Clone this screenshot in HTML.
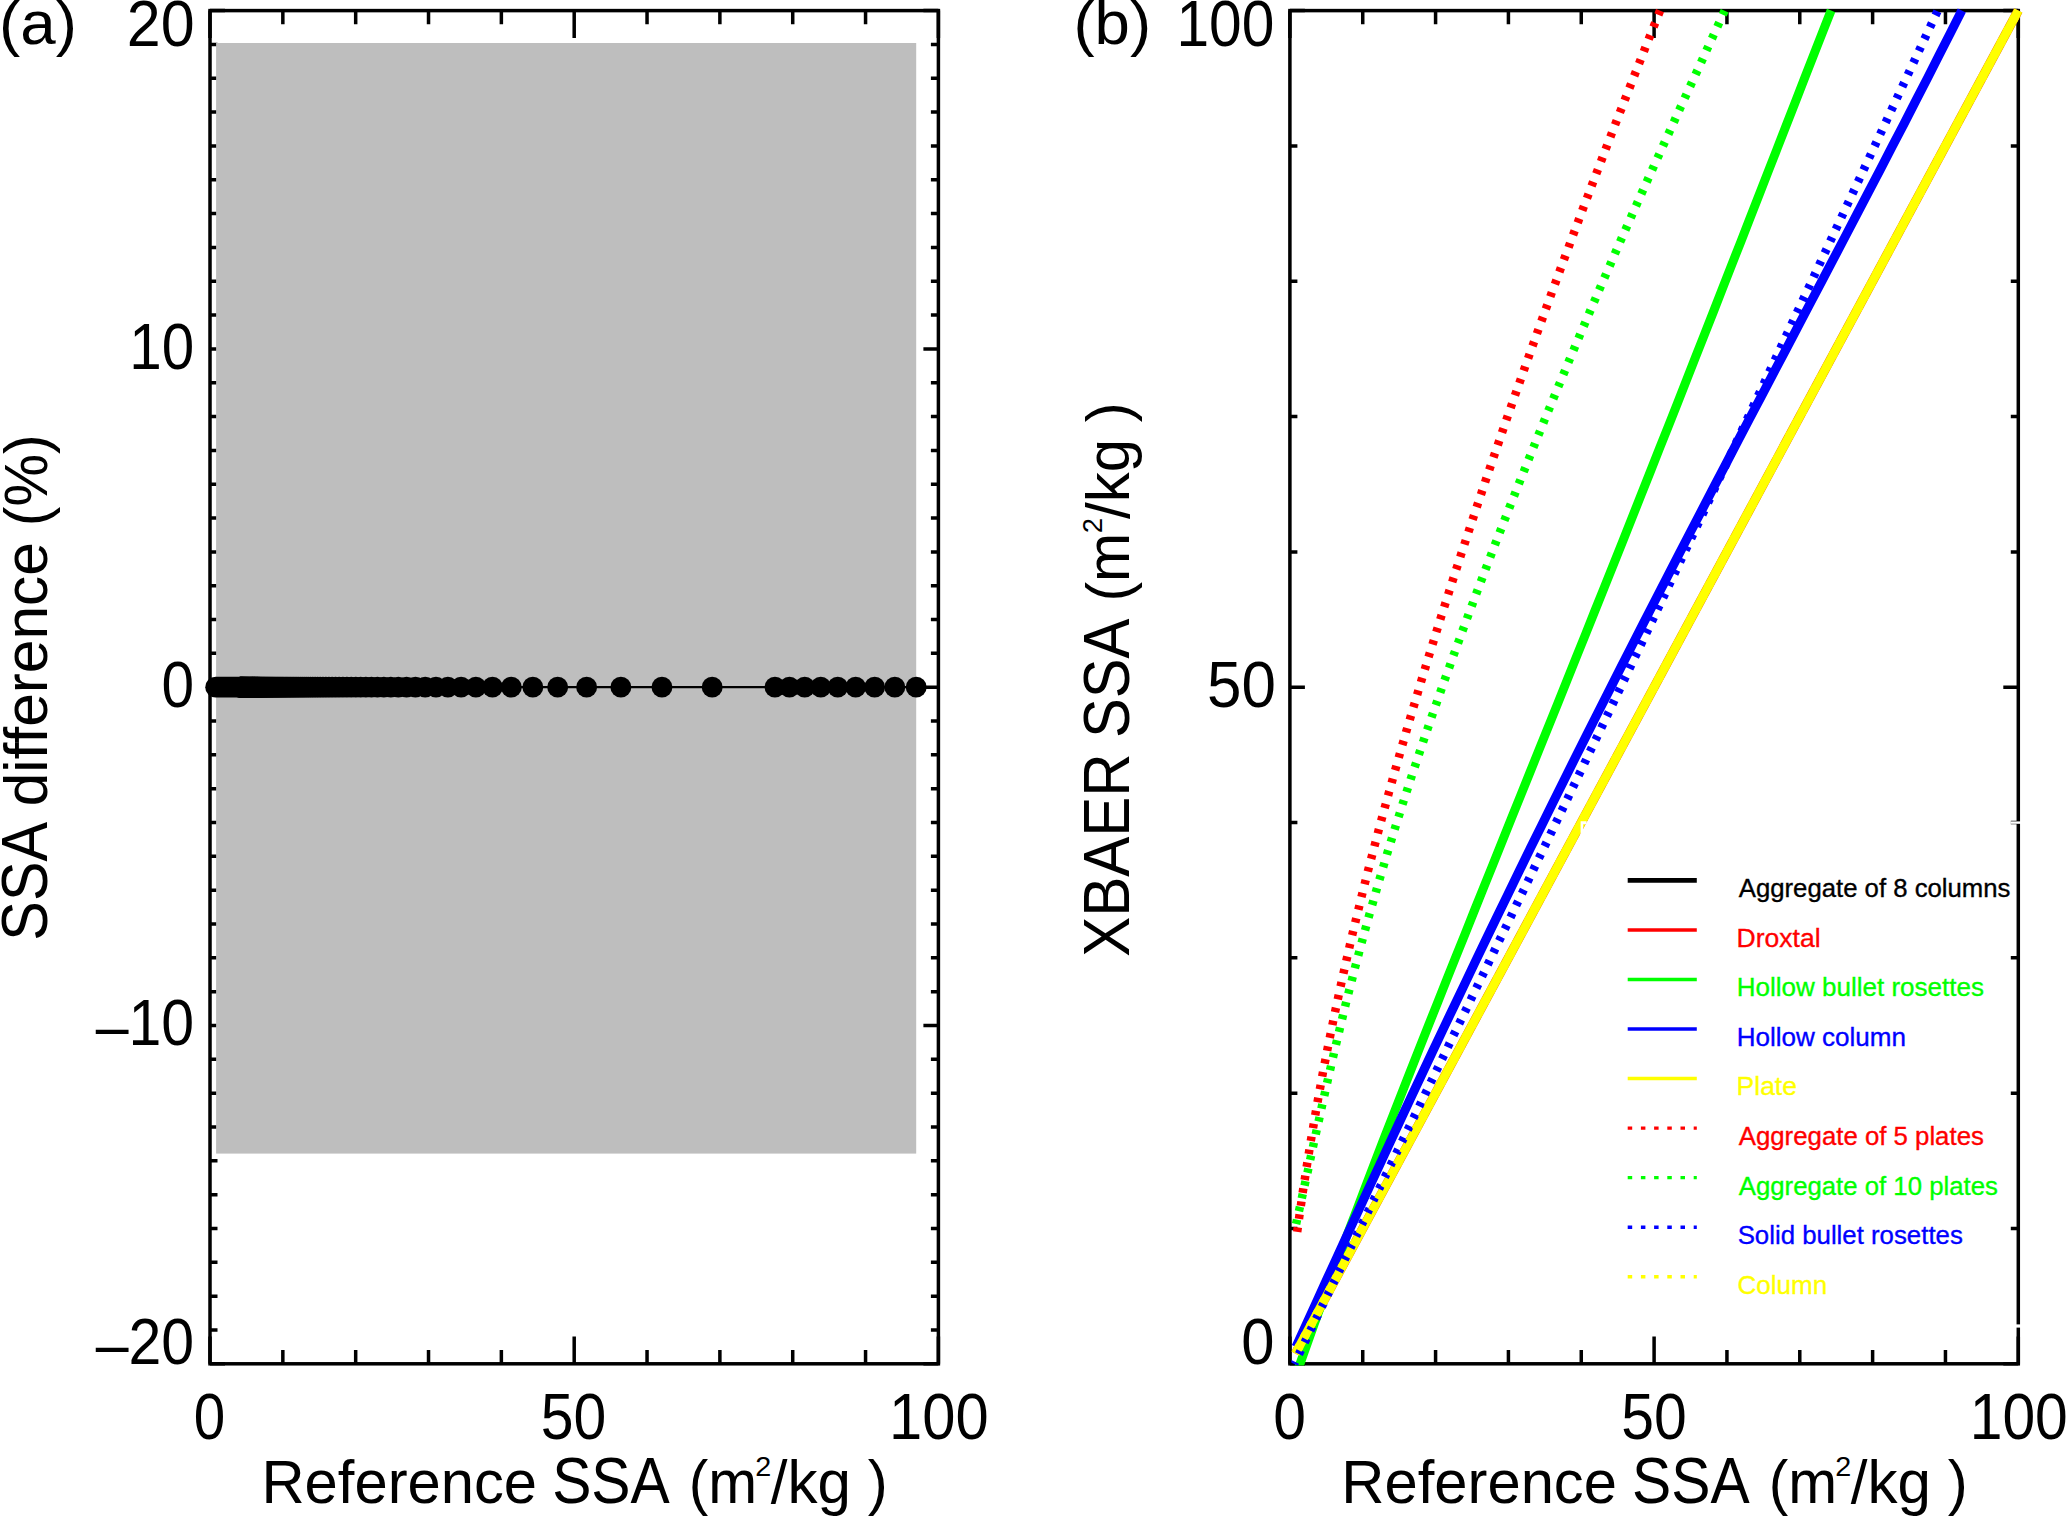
<!DOCTYPE html>
<html lang="en"><head><meta charset="utf-8"><title>SSA comparison</title>
<style>html,body{margin:0;padding:0;background:#fff}body{width:2067px;height:1518px;overflow:hidden}svg{display:block}</style>
</head><body>
<svg width="2067" height="1518" viewBox="0 0 2067 1518" font-family="'Liberation Sans', Arial, Helvetica, sans-serif">
<rect width="2067" height="1518" fill="#fff"/>
<rect x="210.0" y="10.6" width="728.40" height="1353.20" fill="none" stroke="#000" stroke-width="3.5"/>
<path d="M210.00 10.6v27.4M210.00 1363.8v-27.4M282.84 10.6v13.7M282.84 1363.8v-13.7M355.68 10.6v13.7M355.68 1363.8v-13.7M428.52 10.6v13.7M428.52 1363.8v-13.7M501.36 10.6v13.7M501.36 1363.8v-13.7M574.20 10.6v27.4M574.20 1363.8v-27.4M647.04 10.6v13.7M647.04 1363.8v-13.7M719.88 10.6v13.7M719.88 1363.8v-13.7M792.72 10.6v13.7M792.72 1363.8v-13.7M865.56 10.6v13.7M865.56 1363.8v-13.7M938.40 10.6v27.4M938.40 1363.8v-27.4" stroke="#000" stroke-width="3.5" fill="none"/>
<path d="M210.0 1363.80h15.0M938.4 1363.80h-15.0M210.0 1329.97h7.5M938.4 1329.97h-7.5M210.0 1296.14h7.5M938.4 1296.14h-7.5M210.0 1262.31h7.5M938.4 1262.31h-7.5M210.0 1228.48h7.5M938.4 1228.48h-7.5M210.0 1194.65h7.5M938.4 1194.65h-7.5M210.0 1160.82h7.5M938.4 1160.82h-7.5M210.0 1126.99h7.5M938.4 1126.99h-7.5M210.0 1093.16h7.5M938.4 1093.16h-7.5M210.0 1059.33h7.5M938.4 1059.33h-7.5M210.0 1025.50h15.0M938.4 1025.50h-15.0M210.0 991.67h7.5M938.4 991.67h-7.5M210.0 957.84h7.5M938.4 957.84h-7.5M210.0 924.01h7.5M938.4 924.01h-7.5M210.0 890.18h7.5M938.4 890.18h-7.5M210.0 856.35h7.5M938.4 856.35h-7.5M210.0 822.52h7.5M938.4 822.52h-7.5M210.0 788.69h7.5M938.4 788.69h-7.5M210.0 754.86h7.5M938.4 754.86h-7.5M210.0 721.03h7.5M938.4 721.03h-7.5M210.0 687.20h15.0M938.4 687.20h-15.0M210.0 653.37h7.5M938.4 653.37h-7.5M210.0 619.54h7.5M938.4 619.54h-7.5M210.0 585.71h7.5M938.4 585.71h-7.5M210.0 551.88h7.5M938.4 551.88h-7.5M210.0 518.05h7.5M938.4 518.05h-7.5M210.0 484.22h7.5M938.4 484.22h-7.5M210.0 450.39h7.5M938.4 450.39h-7.5M210.0 416.56h7.5M938.4 416.56h-7.5M210.0 382.73h7.5M938.4 382.73h-7.5M210.0 348.90h15.0M938.4 348.90h-15.0M210.0 315.07h7.5M938.4 315.07h-7.5M210.0 281.24h7.5M938.4 281.24h-7.5M210.0 247.41h7.5M938.4 247.41h-7.5M210.0 213.58h7.5M938.4 213.58h-7.5M210.0 179.75h7.5M938.4 179.75h-7.5M210.0 145.92h7.5M938.4 145.92h-7.5M210.0 112.09h7.5M938.4 112.09h-7.5M210.0 78.26h7.5M938.4 78.26h-7.5M210.0 44.43h7.5M938.4 44.43h-7.5M210.0 10.60h15.0M938.4 10.60h-15.0" stroke="#000" stroke-width="3.5" fill="none"/>
<rect x="216.1" y="43" width="700.1" height="1110.6" fill="#bebebe"/>
<line x1="210.0" y1="687.15" x2="938.4" y2="687.15" stroke="#000" stroke-width="2.4"/>
<g fill="#000"><circle cx="916.21" cy="687.15" r="10.45"/><circle cx="894.81" cy="687.15" r="10.45"/><circle cx="874.66" cy="687.15" r="10.45"/><circle cx="855.67" cy="687.15" r="10.45"/><circle cx="837.74" cy="687.15" r="10.45"/><circle cx="820.77" cy="687.15" r="10.45"/><circle cx="804.70" cy="687.15" r="10.45"/><circle cx="789.45" cy="687.15" r="10.45"/><circle cx="774.97" cy="687.15" r="10.45"/><circle cx="712.19" cy="687.15" r="10.45"/><circle cx="661.97" cy="687.15" r="10.45"/><circle cx="620.88" cy="687.15" r="10.45"/><circle cx="586.64" cy="687.15" r="10.45"/><circle cx="557.67" cy="687.15" r="10.45"/><circle cx="532.84" cy="687.15" r="10.45"/><circle cx="511.31" cy="687.15" r="10.45"/><circle cx="492.48" cy="687.15" r="10.45"/><circle cx="475.87" cy="687.15" r="10.45"/><circle cx="461.10" cy="687.15" r="10.45"/><circle cx="447.88" cy="687.15" r="10.45"/><circle cx="435.99" cy="687.15" r="10.45"/><circle cx="425.22" cy="687.15" r="10.45"/><circle cx="415.44" cy="687.15" r="10.45"/><circle cx="406.51" cy="687.15" r="10.45"/><circle cx="398.32" cy="687.15" r="10.45"/><circle cx="390.79" cy="687.15" r="10.45"/><circle cx="383.84" cy="687.15" r="10.45"/><circle cx="377.40" cy="687.15" r="10.45"/><circle cx="371.42" cy="687.15" r="10.45"/><circle cx="365.85" cy="687.15" r="10.45"/><circle cx="360.66" cy="687.15" r="10.45"/><circle cx="355.80" cy="687.15" r="10.45"/><circle cx="351.24" cy="687.15" r="10.45"/><circle cx="346.96" cy="687.15" r="10.45"/><circle cx="342.93" cy="687.15" r="10.45"/><circle cx="339.13" cy="687.15" r="10.45"/><circle cx="335.55" cy="687.15" r="10.45"/><circle cx="332.15" cy="687.15" r="10.45"/><circle cx="328.94" cy="687.15" r="10.45"/><circle cx="325.89" cy="687.15" r="10.45"/><circle cx="322.99" cy="687.15" r="10.45"/><circle cx="320.24" cy="687.15" r="10.45"/><circle cx="317.61" cy="687.15" r="10.45"/><circle cx="315.11" cy="687.15" r="10.45"/><circle cx="312.72" cy="687.15" r="10.45"/><circle cx="310.44" cy="687.15" r="10.45"/><circle cx="308.25" cy="687.15" r="10.45"/><circle cx="306.16" cy="687.15" r="10.45"/><circle cx="304.16" cy="687.15" r="10.45"/><circle cx="302.24" cy="687.15" r="10.45"/><circle cx="300.39" cy="687.15" r="10.45"/><circle cx="298.62" cy="687.15" r="10.45"/><circle cx="296.92" cy="687.15" r="10.45"/><circle cx="295.28" cy="687.15" r="10.45"/><circle cx="293.70" cy="687.15" r="10.45"/><circle cx="292.18" cy="687.15" r="10.45"/><circle cx="290.71" cy="687.15" r="10.45"/><circle cx="289.29" cy="687.15" r="10.45"/><circle cx="287.93" cy="687.15" r="10.45"/><circle cx="286.61" cy="687.15" r="10.45"/><circle cx="285.33" cy="687.15" r="10.45"/><circle cx="284.09" cy="687.15" r="10.45"/><circle cx="282.90" cy="687.15" r="10.45"/><circle cx="281.74" cy="687.15" r="10.45"/><circle cx="280.62" cy="687.15" r="10.45"/><circle cx="279.53" cy="687.15" r="10.45"/><circle cx="278.48" cy="687.15" r="10.45"/><circle cx="277.46" cy="687.15" r="10.45"/><circle cx="276.47" cy="687.15" r="10.45"/><circle cx="275.50" cy="687.15" r="10.45"/><circle cx="274.57" cy="687.15" r="10.45"/><circle cx="273.66" cy="687.15" r="10.45"/><circle cx="272.77" cy="687.15" r="10.45"/><circle cx="271.91" cy="687.15" r="10.45"/><circle cx="271.08" cy="687.15" r="10.45"/><circle cx="270.26" cy="687.15" r="10.45"/><circle cx="269.47" cy="687.15" r="10.45"/><circle cx="268.70" cy="687.15" r="10.45"/><circle cx="267.95" cy="687.15" r="10.45"/><circle cx="267.21" cy="687.15" r="10.45"/><circle cx="266.50" cy="687.15" r="10.45"/><circle cx="265.80" cy="687.15" r="10.45"/><circle cx="265.12" cy="687.15" r="10.45"/><circle cx="264.45" cy="687.15" r="10.45"/><circle cx="263.81" cy="687.15" r="10.45"/><circle cx="263.17" cy="687.15" r="10.45"/><circle cx="262.55" cy="687.15" r="10.45"/><circle cx="261.95" cy="687.15" r="10.45"/><circle cx="261.36" cy="687.15" r="10.45"/><circle cx="260.78" cy="687.15" r="10.45"/><circle cx="260.22" cy="687.15" r="10.45"/><circle cx="259.67" cy="687.15" r="10.45"/><circle cx="259.13" cy="687.15" r="10.45"/><circle cx="258.60" cy="687.15" r="10.45"/><circle cx="258.08" cy="687.15" r="10.45"/><circle cx="257.58" cy="687.15" r="10.45"/><circle cx="257.08" cy="687.15" r="10.45"/><circle cx="256.60" cy="687.15" r="10.45"/><circle cx="256.12" cy="687.15" r="10.45"/><circle cx="255.65" cy="687.15" r="10.45"/><circle cx="255.20" cy="687.15" r="10.45"/><circle cx="254.75" cy="687.15" r="10.45"/><circle cx="254.31" cy="687.15" r="10.45"/><circle cx="253.88" cy="687.15" r="10.45"/><circle cx="253.46" cy="687.15" r="10.45"/><circle cx="253.04" cy="687.15" r="10.45"/><circle cx="252.64" cy="687.15" r="10.45"/><circle cx="252.24" cy="687.15" r="10.45"/><circle cx="251.85" cy="687.15" r="10.45"/><circle cx="251.47" cy="687.15" r="10.45"/><circle cx="251.09" cy="687.15" r="10.45"/><circle cx="250.72" cy="687.15" r="10.45"/><circle cx="250.35" cy="687.15" r="10.45"/><circle cx="250.00" cy="687.15" r="10.45"/><circle cx="249.65" cy="687.15" r="10.45"/><circle cx="249.30" cy="687.15" r="10.45"/><circle cx="248.96" cy="687.15" r="10.45"/><circle cx="248.63" cy="687.15" r="10.45"/><circle cx="248.30" cy="687.15" r="10.45"/><circle cx="247.98" cy="687.15" r="10.45"/><circle cx="247.66" cy="687.15" r="10.45"/><circle cx="247.35" cy="687.15" r="10.45"/><circle cx="247.05" cy="687.15" r="10.45"/><circle cx="246.75" cy="687.15" r="10.45"/><circle cx="246.45" cy="687.15" r="10.45"/><circle cx="246.16" cy="687.15" r="10.45"/><circle cx="245.87" cy="687.15" r="10.45"/><circle cx="245.59" cy="687.15" r="10.45"/><circle cx="245.31" cy="687.15" r="10.45"/><circle cx="245.04" cy="687.15" r="10.45"/><circle cx="244.77" cy="687.15" r="10.45"/><circle cx="244.50" cy="687.15" r="10.45"/><circle cx="244.24" cy="687.15" r="10.45"/><circle cx="243.98" cy="687.15" r="10.45"/><circle cx="243.73" cy="687.15" r="10.45"/><circle cx="243.48" cy="687.15" r="10.45"/><circle cx="243.23" cy="687.15" r="10.45"/><circle cx="242.99" cy="687.15" r="10.45"/><circle cx="242.75" cy="687.15" r="10.45"/><circle cx="242.52" cy="687.15" r="10.45"/><circle cx="242.28" cy="687.15" r="10.45"/><circle cx="242.05" cy="687.15" r="10.45"/><circle cx="241.83" cy="687.15" r="10.45"/><circle cx="241.61" cy="687.15" r="10.45"/><circle cx="241.39" cy="687.15" r="10.45"/><circle cx="241.17" cy="687.15" r="10.45"/><circle cx="240.96" cy="687.15" r="10.45"/><circle cx="240.75" cy="687.15" r="10.45"/><circle cx="240.54" cy="687.15" r="10.45"/><circle cx="240.33" cy="687.15" r="10.45"/><circle cx="240.13" cy="687.15" r="10.45"/></g>
<line x1="215.7" y1="687.15" x2="240.13" y2="687.15" stroke="#000" stroke-width="20.9" stroke-linecap="round"/>
<rect x="1289.9" y="10.6" width="728.40" height="1353.20" fill="none" stroke="#000" stroke-width="3.5"/>
<path d="M1289.90 10.6v27.4M1289.90 1363.8v-27.4M1362.74 10.6v13.7M1362.74 1363.8v-13.7M1435.58 10.6v13.7M1435.58 1363.8v-13.7M1508.42 10.6v13.7M1508.42 1363.8v-13.7M1581.26 10.6v13.7M1581.26 1363.8v-13.7M1654.10 10.6v27.4M1654.10 1363.8v-27.4M1726.94 10.6v13.7M1726.94 1363.8v-13.7M1799.78 10.6v13.7M1799.78 1363.8v-13.7M1872.62 10.6v13.7M1872.62 1363.8v-13.7M1945.46 10.6v13.7M1945.46 1363.8v-13.7M2018.30 10.6v27.4M2018.30 1363.8v-27.4" stroke="#000" stroke-width="3.5" fill="none"/>
<path d="M1289.9 1363.80h15.0M2018.3 1363.80h-15.0M1289.9 1228.48h7.5M2018.3 1228.48h-7.5M1289.9 1093.16h7.5M2018.3 1093.16h-7.5M1289.9 957.84h7.5M2018.3 957.84h-7.5M1289.9 822.52h7.5M2018.3 822.52h-7.5M1289.9 687.20h15.0M2018.3 687.20h-15.0M1289.9 551.88h7.5M2018.3 551.88h-7.5M1289.9 416.56h7.5M2018.3 416.56h-7.5M1289.9 281.24h7.5M2018.3 281.24h-7.5M1289.9 145.92h7.5M2018.3 145.92h-7.5M1289.9 10.60h15.0M2018.3 10.60h-15.0" stroke="#000" stroke-width="3.5" fill="none"/>
<clipPath id="cb"><rect x="1291.35" y="0" width="748.40" height="1365.55"/></clipPath>
<g clip-path="url(#cb)"><polyline points="1295.4,1353.6 2018.3,10.5" fill="none" stroke="#e87800" stroke-width="9.35"/><polyline points="1297.1,1372.0 1305.3,1348.9 1313.6,1325.8 1322.0,1302.8 1330.5,1279.7 1339.1,1256.6 1347.7,1233.5 1356.5,1210.5 1365.3,1187.4 1374.1,1164.3 1383.0,1141.2 1392.0,1118.2 1401.0,1095.1 1410.1,1072.0 1419.2,1048.9 1428.3,1025.9 1437.5,1002.8 1446.7,979.7 1455.9,956.6 1465.2,933.6 1474.4,910.5 1483.7,887.4 1493.0,864.3 1502.3,841.2 1511.5,818.2 1520.8,795.1 1530.1,772.0 1539.4,748.9 1548.7,725.9 1558.0,702.8 1567.3,679.7 1576.5,656.6 1585.8,633.6 1595.0,610.5 1604.3,587.4 1613.5,564.3 1622.7,541.3 1631.9,518.2 1641.0,495.1 1650.2,472.0 1659.3,448.9 1668.5,425.9 1677.6,402.8 1686.7,379.7 1695.7,356.6 1704.8,333.6 1713.9,310.5 1722.9,287.4 1731.9,264.3 1741.0,241.3 1750.0,218.2 1759.0,195.1 1768.0,172.0 1777.0,149.0 1786.0,125.9 1795.0,102.8 1804.0,79.7 1813.0,56.7 1822.0,33.6 1831.1,10.5" fill="none" stroke="#00ff00" stroke-width="8.9"/><polyline points="1296.0,1347.0 1306.3,1324.3 1316.7,1301.7 1327.0,1279.0 1337.4,1256.4 1347.8,1233.7 1358.2,1211.1 1368.7,1188.4 1379.2,1165.8 1389.7,1143.1 1400.2,1120.5 1410.8,1097.8 1421.4,1075.2 1432.1,1052.5 1442.8,1029.9 1453.6,1007.2 1464.4,984.6 1475.2,961.9 1486.1,939.3 1497.1,916.6 1508.1,893.9 1519.1,871.3 1530.2,848.6 1541.4,826.0 1552.6,803.3 1563.8,780.7 1575.1,758.0 1586.5,735.4 1597.9,712.7 1609.4,690.1 1620.9,667.4 1632.4,644.8 1644.0,622.1 1655.6,599.5 1667.3,576.8 1679.0,554.2 1690.7,531.5 1702.5,508.9 1714.3,486.2 1726.1,463.6 1737.9,440.9 1749.8,418.2 1761.7,395.6 1773.6,372.9 1785.5,350.3 1797.4,327.6 1809.3,305.0 1821.2,282.3 1833.1,259.7 1845.0,237.0 1856.8,214.4 1868.7,191.7 1880.5,169.1 1892.2,146.4 1904.0,123.8 1915.6,101.1 1927.3,78.5 1938.8,55.8 1950.3,33.2 1961.8,10.5" fill="none" stroke="#0000ff" stroke-width="9.1"/><polyline points="1295.4,1353.6 2018.3,10.5" fill="none" stroke="#ffff00" stroke-width="8.8"/><polyline points="1297.2,1231.9 1298.4,1223.1 1299.6,1214.3 1300.9,1205.5 1302.1,1196.8 1303.4,1188.0 1304.8,1179.2 1306.1,1170.4 1307.5,1161.6 1308.9,1152.8 1310.3,1144.0 1311.8,1135.2 1313.3,1126.5 1314.8,1117.7 1316.3,1108.9 1317.9,1100.1 1319.5,1091.3 1321.1,1082.5 1322.7,1073.7 1324.4,1064.9 1326.1,1056.2 1327.8,1047.4 1329.6,1038.6 1331.4,1029.8 1333.2,1021.0 1335.0,1012.2 1336.9,1003.4 1338.8,994.6 1340.7,985.9 1342.6,977.1 1344.6,968.3 1346.6,959.5 1348.6,950.7 1350.6,941.9 1352.7,933.1 1354.8,924.4 1356.9,915.6 1359.1,906.8 1361.2,898.0 1363.4,889.2 1365.6,880.4 1367.8,871.6 1370.1,862.8 1372.4,854.1 1374.7,845.3 1377.0,836.5 1379.3,827.7 1381.7,818.9 1384.1,810.1 1386.5,801.3 1388.9,792.5 1391.4,783.8 1393.8,775.0 1396.3,766.2 1398.8,757.4 1401.3,748.6 1403.9,739.8 1406.4,731.0 1409.0,722.3 1411.6,713.5 1414.2,704.7 1416.8,695.9 1419.4,687.1 1422.1,678.3 1424.8,669.5 1427.4,660.7 1430.1,652.0 1432.9,643.2 1435.6,634.4 1438.3,625.6 1441.1,616.8 1443.9,608.0 1446.7,599.2 1449.5,590.4 1452.3,581.7 1455.1,572.9 1458.0,564.1 1460.8,555.3 1463.7,546.5 1466.6,537.7 1469.5,528.9 1472.4,520.1 1475.3,511.4 1478.2,502.6 1481.2,493.8 1484.1,485.0 1487.1,476.2 1490.1,467.4 1493.1,458.6 1496.1,449.9 1499.1,441.1 1502.1,432.3 1505.2,423.5 1508.2,414.7 1511.3,405.9 1514.4,397.1 1517.5,388.3 1520.6,379.6 1523.7,370.8 1526.8,362.0 1529.9,353.2 1533.1,344.4 1536.2,335.6 1539.4,326.8 1542.6,318.0 1545.7,309.3 1548.9,300.5 1552.1,291.7 1555.4,282.9 1558.6,274.1 1561.8,265.3 1565.1,256.5 1568.4,247.8 1571.6,239.0 1574.9,230.2 1578.2,221.4 1581.5,212.6 1584.8,203.8 1588.2,195.0 1591.5,186.2 1594.8,177.5 1598.2,168.7 1601.6,159.9 1604.9,151.1 1608.3,142.3 1611.7,133.5 1615.1,124.7 1618.5,115.9 1622.0,107.2 1625.4,98.4 1628.8,89.6 1632.3,80.8 1635.7,72.0 1639.2,63.2 1642.7,54.4 1646.1,45.6 1649.6,36.9 1653.1,28.1 1656.6,19.3 1660.1,10.5" fill="none" stroke="#ff0000" stroke-width="8.5" stroke-dasharray="4.5 8.62" stroke-dashoffset="0"/><polyline points="1296.1,1224.0 1298.0,1215.3 1300.0,1206.5 1301.9,1197.8 1303.8,1189.1 1305.7,1180.3 1307.7,1171.6 1309.5,1162.9 1311.4,1154.2 1313.3,1145.4 1315.2,1136.7 1317.1,1128.0 1319.1,1119.2 1321.0,1110.5 1322.9,1101.8 1324.9,1093.0 1326.8,1084.3 1328.8,1075.6 1330.8,1066.9 1332.8,1058.1 1334.8,1049.4 1336.9,1040.7 1339.0,1031.9 1341.1,1023.2 1343.2,1014.5 1345.3,1005.7 1347.5,997.0 1349.7,988.3 1352.0,979.6 1354.2,970.8 1356.5,962.1 1358.8,953.4 1361.1,944.6 1363.5,935.9 1365.9,927.2 1368.3,918.4 1370.8,909.7 1373.3,901.0 1375.8,892.3 1378.3,883.5 1380.9,874.8 1383.5,866.1 1386.1,857.3 1388.7,848.6 1391.4,839.9 1394.1,831.1 1396.8,822.4 1399.6,813.7 1402.3,804.9 1405.2,796.2 1408.0,787.5 1410.8,778.8 1413.7,770.0 1416.6,761.3 1419.5,752.6 1422.5,743.8 1425.4,735.1 1428.4,726.4 1431.4,717.6 1434.5,708.9 1437.5,700.2 1440.6,691.5 1443.7,682.7 1446.8,674.0 1450.0,665.3 1453.1,656.5 1456.3,647.8 1459.5,639.1 1462.7,630.3 1465.9,621.6 1469.1,612.9 1472.4,604.2 1475.7,595.4 1478.9,586.7 1482.3,578.0 1485.6,569.2 1488.9,560.5 1492.3,551.8 1495.6,543.0 1499.0,534.3 1502.4,525.6 1505.8,516.9 1509.2,508.1 1512.7,499.4 1516.1,490.7 1519.6,481.9 1523.1,473.2 1526.6,464.5 1530.1,455.7 1533.6,447.0 1537.1,438.3 1540.7,429.6 1544.2,420.8 1547.8,412.1 1551.4,403.4 1555.0,394.6 1558.6,385.9 1562.2,377.2 1565.9,368.4 1569.5,359.7 1573.2,351.0 1576.9,342.2 1580.5,333.5 1584.3,324.8 1588.0,316.1 1591.7,307.3 1595.5,298.6 1599.2,289.9 1603.0,281.1 1606.8,272.4 1610.6,263.7 1614.4,254.9 1618.2,246.2 1622.0,237.5 1625.9,228.8 1629.8,220.0 1633.6,211.3 1637.5,202.6 1641.4,193.8 1645.3,185.1 1649.2,176.4 1653.2,167.6 1657.1,158.9 1661.1,150.2 1665.0,141.5 1669.0,132.7 1673.0,124.0 1676.9,115.3 1680.9,106.5 1684.9,97.8 1688.9,89.1 1692.9,80.3 1696.9,71.6 1700.9,62.9 1704.8,54.2 1708.8,45.4 1712.8,36.7 1716.8,28.0 1720.8,19.2 1724.7,10.5" fill="none" stroke="#00ff00" stroke-width="8.5" stroke-dasharray="4.5 8.62" stroke-dashoffset="0"/><polyline points="1294.2,1364.0 1305.3,1341.1 1316.4,1318.1 1327.5,1295.2 1338.6,1272.2 1349.8,1249.3 1360.9,1226.4 1372.0,1203.4 1383.2,1180.5 1394.3,1157.5 1405.4,1134.6 1416.6,1111.7 1427.7,1088.7 1438.8,1065.8 1449.9,1042.8 1461.0,1019.9 1472.1,996.9 1483.2,974.0 1494.2,951.1 1505.3,928.1 1516.3,905.2 1527.4,882.2 1538.4,859.3 1549.4,836.4 1560.4,813.4 1571.4,790.5 1582.4,767.5 1593.3,744.6 1604.3,721.7 1615.2,698.7 1626.1,675.8 1637.0,652.8 1647.9,629.9 1658.7,607.0 1669.6,584.0 1680.4,561.1 1691.3,538.1 1702.1,515.2 1712.9,492.3 1723.7,469.3 1734.4,446.4 1745.2,423.4 1755.9,400.5 1766.7,377.6 1777.4,354.6 1788.1,331.7 1798.8,308.7 1809.5,285.8 1820.2,262.8 1830.9,239.9 1841.6,217.0 1852.3,194.0 1863.0,171.1 1873.7,148.1 1884.4,125.2 1895.0,102.3 1905.7,79.3 1916.4,56.4 1927.1,33.4 1937.8,10.5" fill="none" stroke="#0000ff" stroke-width="8.5" stroke-dasharray="4.5 8.62" stroke-dashoffset="2.25"/><polyline points="1295.4,1353.6 2018.3,10.5" fill="none" stroke="#ffff00" stroke-width="8.8" stroke-dasharray="4.5 8.62" stroke-dashoffset="8.6"/></g>
<rect x="2010.5" y="821.4" width="11" height="2.4" fill="#fff"/>
<rect x="2015" y="1324.4" width="7" height="3.2" fill="#fff"/>
<path d="M1580.6 821.2h6v3h-3.4v11h-2.6z" fill="#fff"/>
<line x1="1627.7" y1="880.40" x2="1696.8" y2="880.40" stroke="#000" stroke-width="4.6"/>
<text transform="translate(1738.74,897.30) scale(1.0015,1.0000)" font-size="25.7" fill="#000" stroke="#000" stroke-width="0.35">Aggregate of 8 columns</text>
<line x1="1627.7" y1="929.94" x2="1696.8" y2="929.94" stroke="#ff0000" stroke-width="3.4"/>
<text transform="translate(1736.61,946.84) scale(1.0316,1.0000)" font-size="25.7" fill="#ff0000" stroke="#ff0000" stroke-width="0.35">Droxtal</text>
<line x1="1627.7" y1="979.48" x2="1696.8" y2="979.48" stroke="#00ff00" stroke-width="3.4"/>
<text transform="translate(1736.65,996.38) scale(1.0126,1.0000)" font-size="25.7" fill="#00ff00" stroke="#00ff00" stroke-width="0.35">Hollow bullet rosettes</text>
<line x1="1627.7" y1="1029.02" x2="1696.8" y2="1029.02" stroke="#0000ff" stroke-width="3.4"/>
<text transform="translate(1736.65,1045.92) scale(1.0139,1.0000)" font-size="25.7" fill="#0000ff" stroke="#0000ff" stroke-width="0.35">Hollow column</text>
<line x1="1627.7" y1="1078.56" x2="1696.8" y2="1078.56" stroke="#ffff00" stroke-width="3.4"/>
<text transform="translate(1736.62,1095.46) scale(1.0304,1.0000)" font-size="25.7" fill="#ffff00" stroke="#ffff00" stroke-width="0.35">Plate</text>
<line x1="1627.7" y1="1128.10" x2="1696.8" y2="1128.10" stroke="#ff0000" stroke-width="3.4" stroke-dasharray="4.5 8.7"/>
<text transform="translate(1738.74,1145.00) scale(1.0038,1.0000)" font-size="25.7" fill="#ff0000" stroke="#ff0000" stroke-width="0.35">Aggregate of 5 plates</text>
<line x1="1627.7" y1="1177.64" x2="1696.8" y2="1177.64" stroke="#00ff00" stroke-width="3.4" stroke-dasharray="4.5 8.7"/>
<text transform="translate(1738.74,1194.54) scale(1.0022,1.0000)" font-size="25.7" fill="#00ff00" stroke="#00ff00" stroke-width="0.35">Aggregate of 10 plates</text>
<line x1="1627.7" y1="1227.18" x2="1696.8" y2="1227.18" stroke="#0000ff" stroke-width="3.4" stroke-dasharray="4.5 8.7"/>
<text transform="translate(1737.64,1244.08) scale(1.0039,1.0000)" font-size="25.7" fill="#0000ff" stroke="#0000ff" stroke-width="0.35">Solid bullet rosettes</text>
<line x1="1627.7" y1="1276.72" x2="1696.8" y2="1276.72" stroke="#ffff00" stroke-width="3.4" stroke-dasharray="4.5 8.7"/>
<text transform="translate(1737.50,1293.62) scale(1.0142,1.0000)" font-size="25.7" fill="#ffff00" stroke="#ffff00" stroke-width="0.35">Column</text>
<text transform="translate(-0.88,44.10) scale(0.9952,0.9600)" font-size="64.0" fill="#000">(a)</text>
<text transform="translate(126.75,45.70) scale(0.9520,1.0000)" font-size="64.0" fill="#000">20</text>
<text transform="translate(129.32,368.60) scale(0.9117,1.0000)" font-size="64.0" fill="#000">10</text>
<text transform="translate(161.55,706.90) scale(0.9162,1.0000)" font-size="64.0" fill="#000">0</text>
<text transform="translate(95.70,1045.20) scale(0.9222,1.0000)" font-size="64.0" fill="#000"><tspan dy="2.8">–</tspan><tspan dy="-2.8">10</tspan></text>
<text transform="translate(95.70,1363.50) scale(0.9222,1.0000)" font-size="64.0" fill="#000"><tspan dy="2.8">–</tspan><tspan dy="-2.8">20</tspan></text>
<text transform="translate(193.64,1439.00) scale(0.8835,1.0000)" font-size="64.0" fill="#000">0</text>
<text transform="translate(540.64,1439.00) scale(0.9201,1.0000)" font-size="64.0" fill="#000">50</text>
<text transform="translate(889.12,1439.00) scale(0.9325,1.0000)" font-size="64.0" fill="#000">100</text>
<text transform="translate(261.47,1502.70) scale(0.9335,0.9600)" font-size="64.0" fill="#000">Reference</text>
<text transform="translate(552.16,1502.70) scale(0.9183,1.0000)" font-size="64.0" fill="#000">SSA</text>
<text transform="translate(688.73,1502.70) scale(0.9172,0.9600)" font-size="64.0" fill="#000">(m</text>
<text transform="translate(755.36,1476.00) scale(1.0470,1.0000)" font-size="27.5" fill="#000">2</text>
<text transform="translate(770.80,1502.70) scale(0.9404,0.9600)" font-size="64.0" fill="#000">/kg )</text>
<text transform="translate(1341.37,1502.70) scale(0.9335,0.9600)" font-size="64.0" fill="#000">Reference</text>
<text transform="translate(1632.06,1502.70) scale(0.9183,1.0000)" font-size="64.0" fill="#000">SSA</text>
<text transform="translate(1768.63,1502.70) scale(0.9172,0.9600)" font-size="64.0" fill="#000">(m</text>
<text transform="translate(1835.26,1476.00) scale(1.0470,1.0000)" font-size="27.5" fill="#000">2</text>
<text transform="translate(1850.70,1502.70) scale(0.9404,0.9600)" font-size="64.0" fill="#000">/kg )</text>
<text transform="translate(46.50,940.67) rotate(-90) scale(0.9271,1.0000)" font-size="64.0" fill="#000">SSA</text>
<text transform="translate(46.50,806.27) rotate(-90) scale(0.9435,0.9600)" font-size="64.0" fill="#000">difference</text>
<text transform="translate(46.50,526.19) rotate(-90) scale(0.9233,0.9600)" font-size="64.0" fill="#000">(%)</text>
<text transform="translate(1073.43,44.10) scale(0.9923,0.9600)" font-size="64.0" fill="#000">(b)</text>
<text transform="translate(1176.40,45.70) scale(0.9164,1.0000)" font-size="64.0" fill="#000">100</text>
<text transform="translate(1206.92,706.90) scale(0.9685,1.0000)" font-size="64.0" fill="#000">50</text>
<text transform="translate(1241.21,1363.50) scale(0.9326,1.0000)" font-size="64.0" fill="#000">0</text>
<text transform="translate(1273.15,1439.00) scale(0.9195,1.0000)" font-size="64.0" fill="#000">0</text>
<text transform="translate(1621.34,1439.00) scale(0.9201,1.0000)" font-size="64.0" fill="#000">50</text>
<text transform="translate(1969.69,1439.00) scale(0.9184,1.0000)" font-size="64.0" fill="#000">100</text>
<text transform="translate(1128.50,956.75) rotate(-90) scale(0.9380,1.0000)" font-size="64.0" fill="#000">XBAER</text>
<text transform="translate(1128.50,738.08) rotate(-90) scale(0.9319,1.0000)" font-size="64.0" fill="#000">SSA</text>
<text transform="translate(1128.50,601.48) rotate(-90) scale(0.9202,0.9600)" font-size="64.0" fill="#000">(m</text>
<text transform="translate(1101.70,533.37) rotate(-90) scale(0.9990,1.0000)" font-size="27.5" fill="#000">2</text>
<text transform="translate(1128.50,518.90) rotate(-90) scale(0.9371,0.9600)" font-size="64.0" fill="#000">/kg )</text>
</svg>
</body></html>
